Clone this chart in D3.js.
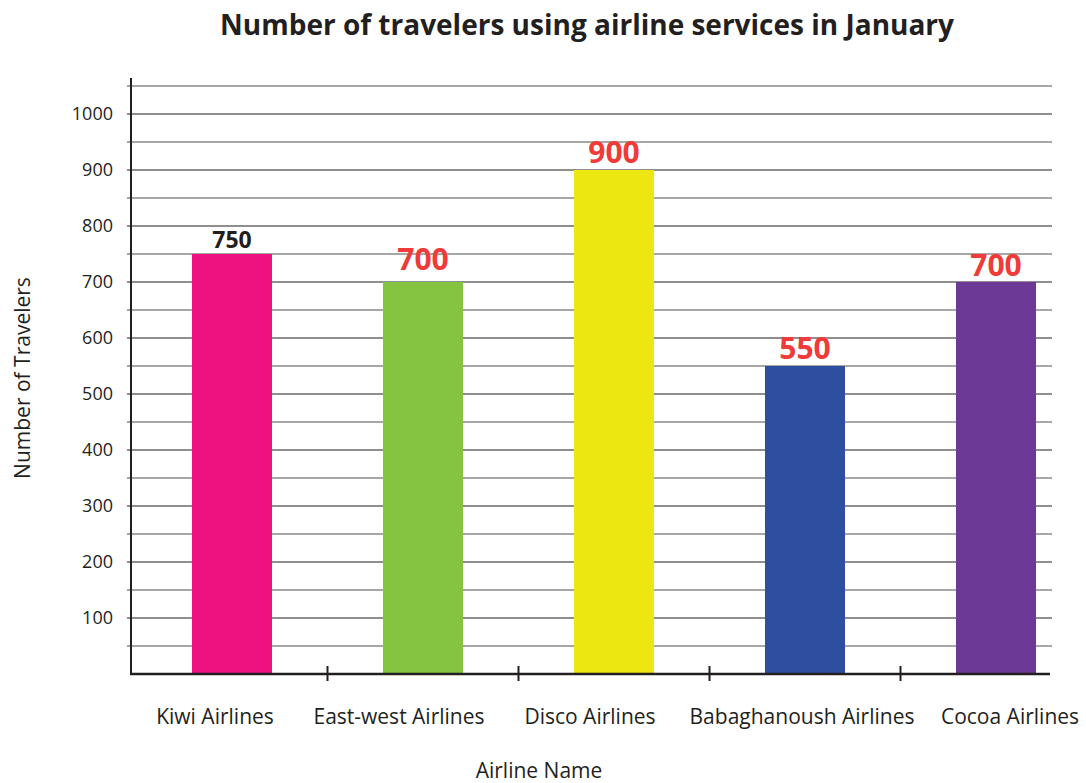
<!DOCTYPE html>
<html>
<head>
<meta charset="utf-8">
<script src="https://cdn.jsdelivr.net/npm/d3@7/dist/d3.min.js"></script>
<style>
  html, body { margin: 0; padding: 0; background: #fff; }
  svg { display: block; font-family: "Open Sans", "Noto Sans", sans-serif; }
</style>
</head>
<body>
<svg id="chart" width="1086" height="783"></svg>
<script>
// Travelers per airline in January
const airlines = ["Kiwi Airlines", "East-west Airlines", "Disco Airlines", "Babaghanoush Airlines", "Cocoa Airlines"];
const travelers = [750, 700, 900, 550, 700];
const barColors = ["#ed127f", "#84c441", "#ede711", "#2e4fa0", "#6c3a96"];
const valueColors = ["#231f20", "#ef3b39", "#ef3b39", "#ef3b39", "#ef3b39"];
const yTickValues = [100, 200, 300, 400, 500, 600, 700, 800, 900, 1000];
const gridValues = d3.range(50, 1051, 50);

// hand-placed nudges for the label layout
const labelShift = [-17, -24, -24, -3, 14];
const valueGap = [6, 12, 7, 7, 6];
const valueSize = [23, 30, 30, 30, 30];

const svg = d3.select("#chart");

const pad = 0.5812;
const x = d3.scaleBand()
  .domain(airlines)
  .range([136.5, 1091.5])
  .paddingInner(pad)
  .paddingOuter(pad / 2);
const step = x.step();

const y = d3.scaleLinear().domain([0, 1000]).range([674, 114]);

// horizontal grid: darker at hundreds, lighter at fifties
svg.append("g")
  .selectAll("line")
  .data(gridValues)
  .join("line")
  .attr("x1", 127)
  .attr("x2", 1052)
  .attr("y1", d => y(d))
  .attr("y2", d => y(d))
  .attr("stroke", d => d % 100 === 0 ? "#231f20" : "#8a8a8a")
  .attr("stroke-width", d => d % 100 === 0 ? 1.1 : 1.3);

// bars
svg.append("g")
  .selectAll("rect")
  .data(airlines)
  .join("rect")
  .attr("x", d => x(d))
  .attr("width", x.bandwidth())
  .attr("y", (d, i) => y(travelers[i]))
  .attr("height", (d, i) => y(0) - y(travelers[i]))
  .attr("fill", (d, i) => barColors[i]);

// y axis line and labels
svg.append("line")
  .attr("x1", 131).attr("x2", 131)
  .attr("y1", 78).attr("y2", 675)
  .attr("stroke", "#231f20").attr("stroke-width", 2);

svg.append("g")
  .selectAll("text")
  .data(yTickValues)
  .join("text")
  .attr("x", 113)
  .attr("y", d => y(d))
  .attr("dy", "0.35em")
  .attr("text-anchor", "end")
  .attr("font-size", 18)
  .attr("fill", "#231f20")
  .text(d => d);

// x axis line and separator ticks
svg.append("line")
  .attr("x1", 130).attr("x2", 1050)
  .attr("y1", y(0)).attr("y2", y(0))
  .attr("stroke", "#231f20").attr("stroke-width", 2.4);

svg.append("g")
  .selectAll("line")
  .data(airlines.slice(1))
  .join("line")
  .attr("x1", d => x(d) - step * pad / 2)
  .attr("x2", d => x(d) - step * pad / 2)
  .attr("y1", y(0) - 8)
  .attr("y2", y(0) + 7)
  .attr("stroke", "#231f20")
  .attr("stroke-width", 2);

// category labels
svg.append("g")
  .selectAll("text")
  .data(airlines)
  .join("text")
  .attr("x", (d, i) => x(d) + x.bandwidth() / 2 + labelShift[i])
  .attr("y", 724)
  .attr("text-anchor", "middle")
  .attr("font-size", 21)
  .attr("fill", "#231f20")
  .text(d => d);

// value labels above bars
svg.append("g")
  .selectAll("text")
  .data(airlines)
  .join("text")
  .attr("x", d => x(d) + x.bandwidth() / 2)
  .attr("y", (d, i) => y(travelers[i]) - valueGap[i])
  .attr("text-anchor", "middle")
  .attr("font-weight", "bold")
  .attr("font-size", (d, i) => valueSize[i])
  .attr("fill", (d, i) => valueColors[i])
  .text((d, i) => travelers[i]);

// title and axis titles
svg.append("text")
  .attr("x", 587).attr("y", 35)
  .attr("text-anchor", "middle")
  .attr("font-weight", "bold")
  .attr("font-size", 28)
  .attr("fill", "#231f20")
  .text("Number of travelers using airline services in January");

svg.append("text")
  .attr("transform", "translate(30,378) rotate(-90)")
  .attr("text-anchor", "middle")
  .attr("font-size", 21)
  .attr("fill", "#231f20")
  .text("Number of Travelers");

svg.append("text")
  .attr("x", 539).attr("y", 778)
  .attr("text-anchor", "middle")
  .attr("font-size", 21)
  .attr("fill", "#231f20")
  .text("Airline Name");
</script>
</body>
</html>
